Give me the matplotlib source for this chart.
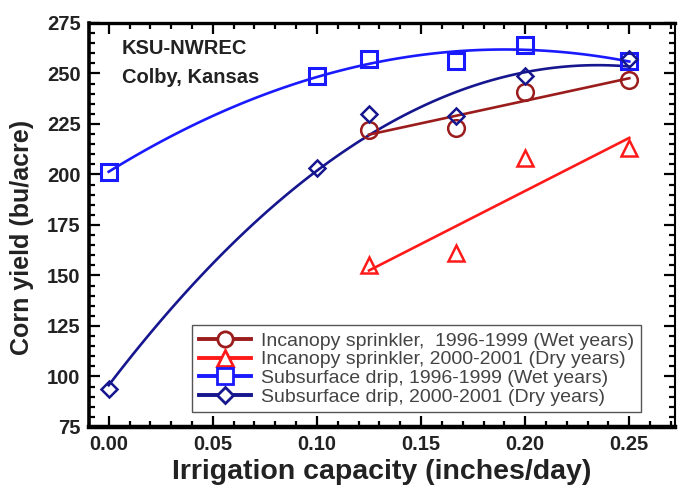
import numpy as np
import matplotlib
matplotlib.use("Agg")
import matplotlib.pyplot as plt
from matplotlib.ticker import MultipleLocator, FormatStrFormatter
from matplotlib.lines import Line2D

# ---- data ----
x_drip = [0.0, 0.1, 0.125, 0.167, 0.2, 0.25]
drip_wet = [201, 249, 257, 256, 264, 256]
drip_dry = [94, 203, 230, 229, 249, 257]
x_spr = [0.125, 0.167, 0.2, 0.25]
spr_wet = [222, 223, 241, 247]
spr_dry = [155, 161, 208, 213]

labels = ["Incanopy sprinkler,  1996-1999 (Wet years)",
          "Incanopy sprinkler, 2000-2001 (Dry years)",
          "Subsurface drip, 1996-1999 (Wet years)",
          "Subsurface drip, 2000-2001 (Dry years)"]

c_spr_wet = "#9b1c1c"
c_spr_dry = "#ff1a1a"
c_drip_wet = "#1a1aff"
c_drip_dry = "#16168f"

plt.rcParams['font.family'] = ['Liberation Sans', 'DejaVu Sans']

fig = plt.figure(figsize=(6.84, 4.86), dpi=100)
ax = fig.add_axes([0.130, 0.1214, 0.857, 0.8313])

def fit_curve(xs, ys, deg, color, lw=1.9):
    p = np.polyfit(xs, ys, deg)
    xx = np.linspace(min(xs), max(xs), 100)
    ax.plot(xx, np.polyval(p, xx), color=color, lw=lw, zorder=2)

fit_curve(x_drip, drip_wet, 2, c_drip_wet)
fit_curve(x_drip, drip_dry, 2, c_drip_dry)
fit_curve(x_spr, spr_wet, 1, c_spr_wet)
fit_curve(x_spr, spr_dry, 1, c_spr_dry)

mew = 1.8
ax.plot(x_spr, spr_wet, 'o', ms=12, mfc='none', mec=c_spr_wet, mew=mew, zorder=3)
ax.plot(x_spr, spr_dry, '^', ms=12, mfc='none', mec=c_spr_dry, mew=mew, zorder=3)
ax.plot(x_drip, drip_wet, 's', ms=12, mfc='none', mec=c_drip_wet, mew=mew + 0.4, zorder=3)
ax.plot(x_drip, drip_dry, 'D', ms=8.5, mfc='none', mec=c_drip_dry, mew=mew, zorder=4)

ax.set_xlim(-0.0095, 0.272)
ax.set_ylim(75, 275)
ax.xaxis.set_major_locator(MultipleLocator(0.05))
ax.xaxis.set_minor_locator(MultipleLocator(0.01))
ax.yaxis.set_major_locator(MultipleLocator(25))
ax.yaxis.set_minor_locator(MultipleLocator(5))
ax.xaxis.set_major_formatter(FormatStrFormatter('%.2f'))
ax.tick_params(which='both', direction='in', top=True, right=True, width=1.6, colors='black')
ax.tick_params(which='major', length=8, labelsize=14.5, pad=6)
ax.tick_params(which='minor', length=4.5)
for lab in ax.get_xticklabels() + ax.get_yticklabels():
    lab.set_fontweight('bold')
    lab.set_color('#222222')
for side, w in [('left', 2.6), ('bottom', 3.2), ('top', 2.4), ('right', 1.5)]:
    ax.spines[side].set_linewidth(w)

ax.set_xlabel("Irrigation capacity (inches/day)", fontsize=20.5, fontweight='bold', color='#222222')
ax.xaxis.set_label_coords(0.5, -0.1275, transform=ax.transAxes)
ax.xaxis.label.set_va('baseline')
ax.set_ylabel("Corn yield (bu/acre)", fontsize=18, fontweight='bold', color='#222222')
ax.yaxis.set_label_coords(-0.114, 0.47, transform=ax.transAxes)
ax.yaxis.label.set_va('center')

ax.text(0.056, 0.938, "KSU-NWREC", transform=ax.transAxes, fontsize=14.5, fontweight='bold',
        color='#222222', ha='left', va='center')
ax.text(0.056, 0.866, "Colby, Kansas", transform=ax.transAxes, fontsize=14.5, fontweight='bold',
        color='#222222', ha='left', va='center')

handles = [
    Line2D([], [], color=c_spr_wet, lw=2.8, marker='o', ms=11, mfc='white', mec=c_spr_wet, mew=2),
    Line2D([], [], color=c_spr_dry, lw=2.8, marker='^', ms=11, mfc='white', mec=c_spr_dry, mew=2),
    Line2D([], [], color=c_drip_wet, lw=2.8, marker='s', ms=11, mfc='white', mec=c_drip_wet, mew=2),
    Line2D([], [], color=c_drip_dry, lw=2.8, marker='D', ms=8, mfc='white', mec=c_drip_dry, mew=2),
]
leg = ax.legend(handles, labels, loc='lower right', bbox_to_anchor=(0.958, 0.012),
                fontsize=14, labelspacing=0.05, handlelength=2.7, handletextpad=0.5,
                borderpad=0.35, fancybox=False, framealpha=1, edgecolor='#555555')
leg.get_frame().set_linewidth(1.0)
for t in leg.get_texts():
    t.set_color('#444444')
leg.set_zorder(5)

fig.savefig("out.png", dpi=100)
